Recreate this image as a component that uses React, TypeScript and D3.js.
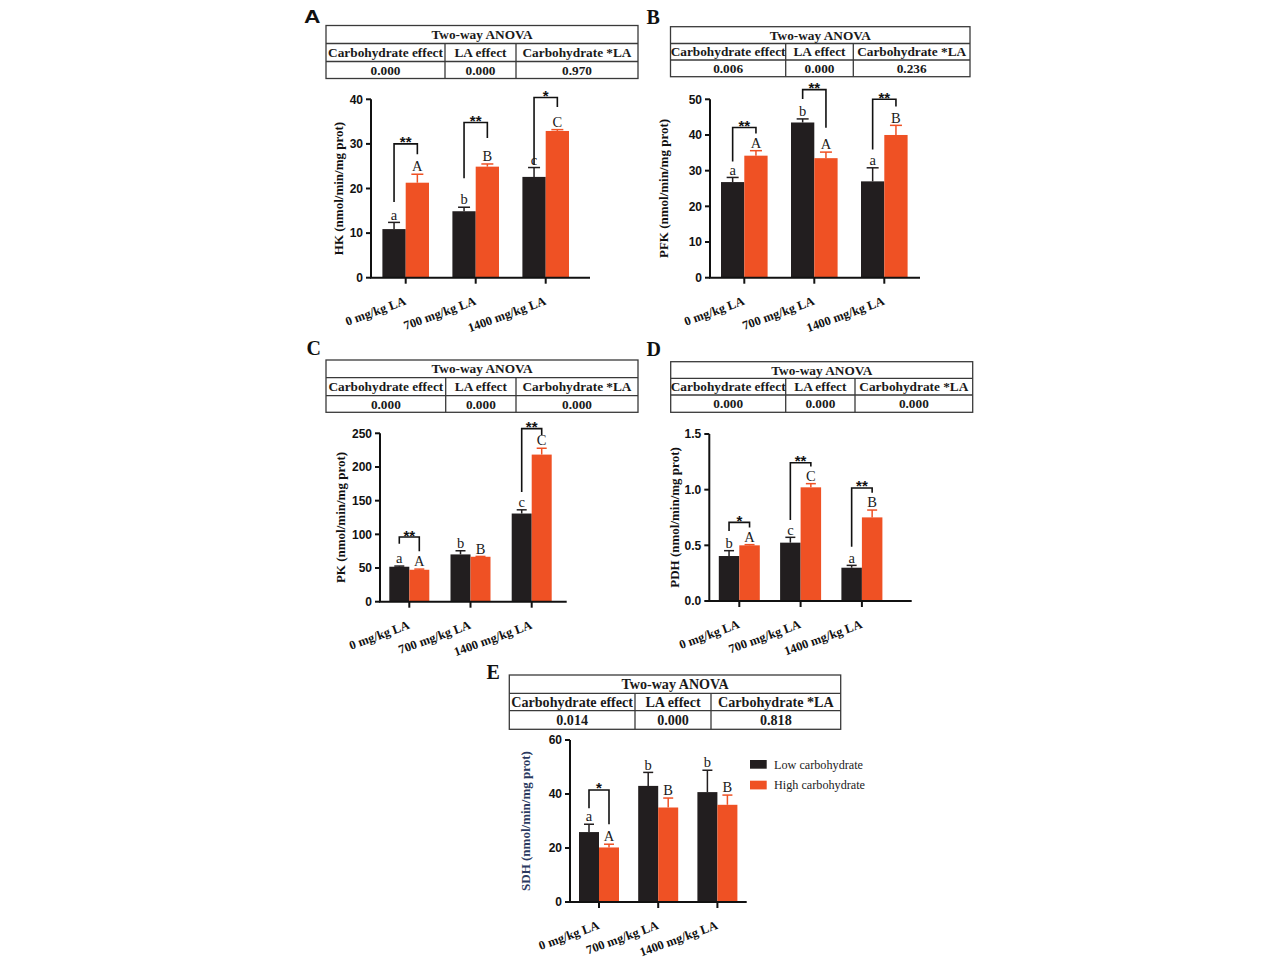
import React from 'react';
import * as d3 from 'd3';

// ---------- data ----------
const categories = ['0 mg/kg LA', '700 mg/kg LA', '1400 mg/kg LA'];
const seriesNames = ['Low carbohydrate', 'High carbohydrate'];
const anovaHeaders = ['Carbohydrate effect', 'LA effect', 'Carbohydrate *LA'];
const anovaTitle = 'Two-way ANOVA';

const hkLow = [10.9, 14.9, 22.6];
const hkLowErr = [1.5, 0.9, 2.1];
const hkHigh = [21.3, 24.9, 32.9];
const hkHighErr = [1.9, 0.6, 0.3];
const hkLowLetters = ['a', 'b', 'c'];
const hkHighLetters = ['A', 'B', 'C'];
const hkAnova = ['0.000', '0.000', '0.970'];
const hkTicks = [0, 10, 20, 30, 40];
// bracket: [left leg bottom, bracket top, right leg bottom] in data units, and stars
const hkBrackets = [[17.0, 30.0, 27.7], [22.3, 34.8, 31.3], [25.3, 40.4, 38.3]];
const hkStars = ['**', '**', '*'];

const pfkLow = [26.8, 43.5, 27.0];
const pfkLowErr = [1.3, 1.0, 3.8];
const pfkHigh = [34.2, 33.5, 40.0];
const pfkHighErr = [1.4, 1.7, 2.7];
const pfkLowLetters = ['a', 'b', 'a'];
const pfkHighLetters = ['A', 'A', 'B'];
const pfkAnova = ['0.006', '0.000', '0.236'];
const pfkTicks = [0, 10, 20, 30, 40, 50];
const pfkBrackets = [[32.6, 42.1, 40.4], [50.1, 52.7, 42.0], [35.9, 50.0, 48.0]];
const pfkStars = ['**', '**', '**'];

const pkLow = [51.9, 70.2, 130.9];
const pkLowErr = [1.0, 5.4, 5.5];
const pkHigh = [47.4, 66.7, 218.4];
const pkHighErr = [1.0, 0.5, 9.4];
const pkLowLetters = ['a', 'b', 'c'];
const pkHighLetters = ['A', 'B', 'C'];
const pkAnova = ['0.000', '0.000', '0.000'];
const pkTicks = [0, 50, 100, 150, 200, 250];
const pkBrackets = [[86, 96, 75], null, [163, 257, 247.5]];
const pkStars = ['**', '', '**'];

const pdhLow = [0.404, 0.524, 0.299];
const pdhLowErr = [0.048, 0.048, 0.021];
const pdhHigh = [0.5, 1.021, 0.751];
const pdhHighErr = [0.006, 0.033, 0.066];
const pdhLowLetters = ['b', 'c', 'a'];
const pdhHighLetters = ['A', 'C', 'B'];
const pdhAnova = ['0.000', '0.000', '0.000'];
const pdhTicks = [0, 0.5, 1.0, 1.5];
const pdhBrackets = [[0.628, 0.706, 0.66], [0.728, 1.242, 1.207], [0.487, 1.015, 0.973]];
const pdhStars = ['*', '**', '**'];

const sdhLow = [25.9, 43.0, 40.7];
const sdhLowErr = [2.9, 5.0, 8.1];
const sdhHigh = [20.2, 35.0, 36.0];
const sdhHighErr = [1.2, 3.5, 3.6];
const sdhLowLetters = ['a', 'b', 'b'];
const sdhHighLetters = ['A', 'B', 'B'];
const sdhAnova = ['0.014', '0.000', '0.818'];
const sdhTicks = [0, 20, 40, 60];
const sdhBrackets = [[34.7, 41.5, 28.8], null, null];
const sdhStars = ['*', '', ''];

// ---------- style ----------
const BLACK = '#221e1f';
const ORANGE = '#ef5124';
const SERIF = '"Liberation Serif", "Times New Roman", serif';
const SANS = '"Liberation Sans", Arial, sans-serif';

type PanelCfg = {
  letter: string;
  letterX: number;
  letterY: number;
  letterSans?: boolean;
  table: { left: number; right: number; rows: number[]; cols: number[]; font: number };
  anova: string[];
  axisX: number;
  yTop: number;
  yBottom: number;
  xEnd: number;
  firstCenter: number;
  spacing: number;
  barW: number;
  capW: number;
  yMax: number;
  ticks: number[];
  tickFmt: (v: number) => string;
  yTitle: string;
  yTitleX: number;
  yTitleColor?: string;
  low: number[];
  lowErr: number[];
  high: number[];
  highErr: number[];
  lowLetters: string[];
  highLetters: string[];
  brackets: (number[] | null)[];
  stars: string[];
};

function AnovaTable({ cfg, anova }: { cfg: PanelCfg['table']; anova: string[] }) {
  const { left, right, rows, cols, font } = cfg;
  const xs = [left, cols[0], cols[1], right];
  const stroke = '#3a3a3a';
  return (
    <g>
      <rect x={left} y={rows[0]} width={right - left} height={rows[3] - rows[0]} fill="white" stroke={stroke} strokeWidth={1.3} />
      <line x1={left} x2={right} y1={rows[1]} y2={rows[1]} stroke={stroke} strokeWidth={1.3} />
      <line x1={left} x2={right} y1={rows[2]} y2={rows[2]} stroke={stroke} strokeWidth={1.3} />
      {cols.map((c, i) => (
        <line key={i} x1={c} x2={c} y1={rows[1]} y2={rows[3]} stroke={stroke} strokeWidth={1.3} />
      ))}
      <text x={(left + right) / 2} y={(rows[0] + rows[1]) / 2 + font * 0.34} textAnchor="middle" fontFamily={SERIF} fontWeight="bold" fontSize={font} fill="#1a1a1a">
        {anovaTitle}
      </text>
      {anovaHeaders.map((h, i) => (
        <text key={'h' + i} x={(xs[i] + xs[i + 1]) / 2} y={(rows[1] + rows[2]) / 2 + font * 0.34} textAnchor="middle" fontFamily={SERIF} fontWeight="bold" fontSize={font} fill="#1a1a1a">
          {h}
        </text>
      ))}
      {anova.map((v, i) => (
        <text key={'v' + i} x={(xs[i] + xs[i + 1]) / 2} y={(rows[2] + rows[3]) / 2 + font * 0.34} textAnchor="middle" fontFamily={SERIF} fontWeight="bold" fontSize={font} fill="#1a1a1a">
          {v}
        </text>
      ))}
    </g>
  );
}

function Panel({ cfg }: { cfg: PanelCfg }) {
  const y = d3.scaleLinear().domain([0, cfg.yMax]).range([cfg.yBottom, cfg.yTop]);
  const x = d3
    .scaleBand<string>()
    .domain(categories)
    .range([cfg.firstCenter - cfg.spacing / 2, cfg.firstCenter + cfg.spacing * 2.5])
    .padding(0);
  const sub = d3.scaleBand<string>().domain(seriesNames).range([-cfg.barW, cfg.barW]).padding(0);
  const cx = (c: string) => (x(c) as number) + x.bandwidth() / 2;
  const series = [
    { name: seriesNames[0], vals: cfg.low, errs: cfg.lowErr, letters: cfg.lowLetters, color: BLACK },
    { name: seriesNames[1], vals: cfg.high, errs: cfg.highErr, letters: cfg.highLetters, color: ORANGE },
  ];
  const midY = (cfg.yTop + cfg.yBottom) / 2;
  return (
    <g>
      <text
        x={cfg.letterX}
        y={cfg.letterY}
        fontFamily={cfg.letterSans ? SANS : SERIF}
        fontWeight={cfg.letterSans ? 900 : 'bold'}
        fontSize={cfg.letterSans ? 19 : 20}
        fill="#111"
        transform={cfg.letterSans ? `translate(${cfg.letterX},0) scale(1.2,1) translate(${-cfg.letterX},0)` : undefined}
      >
        {cfg.letter}
      </text>
      <AnovaTable cfg={cfg.table} anova={cfg.anova} />
      {/* bars */}
      {series.map((s) =>
        categories.map((c, i) => {
          const bx = cx(c) + (sub(s.name) as number);
          const top = y(s.vals[i]);
          const et = y(s.vals[i] + s.errs[i]);
          const bc = bx + sub.bandwidth() / 2;
          return (
            <g key={s.name + c}>
              <rect x={bx} y={top} width={sub.bandwidth()} height={cfg.yBottom - top} fill={s.color} />
              <line x1={bc} x2={bc} y1={top} y2={et} stroke={s.color} strokeWidth={1.5} />
              <line x1={bc - cfg.capW / 2} x2={bc + cfg.capW / 2} y1={et} y2={et} stroke={s.color} strokeWidth={1.5} />
              <text x={bc} y={et - 2.8} textAnchor="middle" fontFamily={SERIF} fontSize={14.5} fill="#1a1a1a">
                {s.letters[i]}
              </text>
            </g>
          );
        })
      )}
      {/* brackets */}
      {categories.map((c, i) => {
        const b = cfg.brackets[i];
        if (!b) return null;
        const xl = cx(c) + (sub(seriesNames[0]) as number) + sub.bandwidth() / 2;
        const xr = cx(c) + (sub(seriesNames[1]) as number) + sub.bandwidth() / 2;
        const yt = y(b[1]);
        return (
          <g key={'br' + c}>
            <path
              d={`M${xl},${y(b[0])}V${yt}H${xr}V${y(b[2])}`}
              fill="none"
              stroke="#111"
              strokeWidth={1.6}
            />
            <text x={(xl + xr) / 2} y={yt + 3.5} textAnchor="middle" fontFamily={SANS} fontWeight="bold" fontSize={15} fill="#111">
              {cfg.stars[i]}
            </text>
          </g>
        );
      })}
      {/* y axis */}
      <line x1={cfg.axisX} x2={cfg.axisX} y1={cfg.yBottom} y2={cfg.yTop} stroke="#111" strokeWidth={2} />
      {cfg.ticks.map((t) => (
        <g key={'yt' + t}>
          <line x1={cfg.axisX - 5} x2={cfg.axisX} y1={y(t)} y2={y(t)} stroke="#111" strokeWidth={2} />
          <text x={cfg.axisX - 8} y={y(t) + 4.3} textAnchor="end" fontFamily={SANS} fontWeight="bold" fontSize={12} fill="#111">
            {cfg.tickFmt(t)}
          </text>
        </g>
      ))}
      <text
        transform={`translate(${cfg.yTitleX},${midY}) rotate(-90)`}
        textAnchor="middle"
        dy="0.35em"
        fontFamily={SERIF}
        fontWeight="bold"
        fontSize={13}
        fill={cfg.yTitleColor || '#111'}
      >
        {cfg.yTitle}
      </text>
      {/* x axis */}
      <line x1={cfg.axisX - 1} x2={cfg.xEnd} y1={cfg.yBottom} y2={cfg.yBottom} stroke="#111" strokeWidth={2} />
      {categories.map((c) => (
        <g key={'xt' + c}>
          <line x1={cx(c)} x2={cx(c)} y1={cfg.yBottom} y2={cfg.yBottom + 6} stroke="#111" strokeWidth={2} />
          <text
            transform={`translate(${cx(c) + 1},${cfg.yBottom + 26.5}) rotate(-20)`}
            textAnchor="end"
            fontFamily={SERIF}
            fontWeight="bold"
            fontSize={12.5}
            fill="#111"
          >
            {c}
          </text>
        </g>
      ))}
    </g>
  );
}

const f0 = (v: number) => d3.format('d')(v);
const f1 = (v: number) => d3.format('.1f')(v);

const panels: PanelCfg[] = [
  {
    letter: 'A', letterX: 304, letterY: 23.5, letterSans: true,
    table: { left: 326, right: 638, rows: [25.5, 43.5, 61.5, 78.5], cols: [445, 516], font: 13.3 },
    anova: hkAnova,
    axisX: 371, yTop: 99.3, yBottom: 277.7, xEnd: 590, firstCenter: 405.7, spacing: 70, barW: 23.3, capW: 12,
    yMax: 40, ticks: hkTicks, tickFmt: f0, yTitle: 'HK (nmol/min/mg prot)', yTitleX: 338,
    low: hkLow, lowErr: hkLowErr, high: hkHigh, highErr: hkHighErr,
    lowLetters: hkLowLetters, highLetters: hkHighLetters, brackets: hkBrackets, stars: hkStars,
  },
  {
    letter: 'B', letterX: 646.5, letterY: 23.5,
    table: { left: 670.5, right: 970, rows: [26.7, 43.5, 60, 76.7], cols: [785.7, 853.3], font: 13.3 },
    anova: pfkAnova,
    axisX: 710, yTop: 99.3, yBottom: 277.7, xEnd: 920, firstCenter: 744.3, spacing: 70, barW: 23.3, capW: 12,
    yMax: 50, ticks: pfkTicks, tickFmt: f0, yTitle: 'PFK (nmol/min/mg prot)', yTitleX: 663,
    low: pfkLow, lowErr: pfkLowErr, high: pfkHigh, highErr: pfkHighErr,
    lowLetters: pfkLowLetters, highLetters: pfkHighLetters, brackets: pfkBrackets, stars: pfkStars,
  },
  {
    letter: 'C', letterX: 306.5, letterY: 355,
    table: { left: 326, right: 638, rows: [360, 377.7, 395.7, 412.3], cols: [445.7, 516], font: 13.3 },
    anova: pkAnova,
    axisX: 380, yTop: 433.3, yBottom: 601.7, xEnd: 566.7, firstCenter: 409.3, spacing: 61.2, barW: 20, capW: 10,
    yMax: 250, ticks: pkTicks, tickFmt: f0, yTitle: 'PK (nmol/min/mg prot)', yTitleX: 340.7,
    low: pkLow, lowErr: pkLowErr, high: pkHigh, highErr: pkHighErr,
    lowLetters: pkLowLetters, highLetters: pkHighLetters, brackets: pkBrackets, stars: pkStars,
  },
  {
    letter: 'D', letterX: 646.5, letterY: 355.7,
    table: { left: 670.7, right: 972.7, rows: [361.7, 378.3, 395, 412.3], cols: [785.7, 855], font: 13.3 },
    anova: pdhAnova,
    axisX: 709.3, yTop: 434, yBottom: 601, xEnd: 911.7, firstCenter: 739.3, spacing: 61.3, barW: 20.5, capW: 10,
    yMax: 1.5, ticks: pdhTicks, tickFmt: f1, yTitle: 'PDH (nmol/min/mg prot)', yTitleX: 674,
    low: pdhLow, lowErr: pdhLowErr, high: pdhHigh, highErr: pdhHighErr,
    lowLetters: pdhLowLetters, highLetters: pdhHighLetters, brackets: pdhBrackets, stars: pdhStars,
  },
  {
    letter: 'E', letterX: 486.5, letterY: 679,
    table: { left: 509.3, right: 840.7, rows: [675, 693.3, 710.7, 729.3], cols: [635, 711], font: 14.1 },
    anova: sdhAnova,
    axisX: 570, yTop: 740, yBottom: 902, xEnd: 746.7, firstCenter: 599, spacing: 59.2, barW: 20, capW: 10,
    yMax: 60, ticks: sdhTicks, tickFmt: f0, yTitle: 'SDH (nmol/min/mg prot)', yTitleX: 525, yTitleColor: '#2b3a60',
    low: sdhLow, lowErr: sdhLowErr, high: sdhHigh, highErr: sdhHighErr,
    lowLetters: sdhLowLetters, highLetters: sdhHighLetters, brackets: sdhBrackets, stars: sdhStars,
  },
];

function Legend() {
  const colors = [BLACK, ORANGE];
  const ly = d3.scalePoint<string>().domain(seriesNames).range([760, 780.7]);
  return (
    <g>
      {seriesNames.map((n, i) => (
        <g key={n}>
          <rect x={750} y={ly(n) as number} width={16.7} height={8.7} fill={colors[i]} />
          <text x={774} y={(ly(n) as number) + 8.7} fontFamily={SERIF} fontSize={12.2} fill="#222">
            {n}
          </text>
        </g>
      ))}
    </g>
  );
}

export default function App() {
  return (
    <svg
      width={1280}
      height={960}
      viewBox="0 0 1280 960"
      style={{ position: 'absolute', left: 0, top: 0, background: 'white' }}
    >
      <rect x={0} y={0} width={1280} height={960} fill="white" />
      {panels.map((p) => (
        <Panel key={p.letter} cfg={p} />
      ))}
      <Legend />
    </svg>
  );
}
